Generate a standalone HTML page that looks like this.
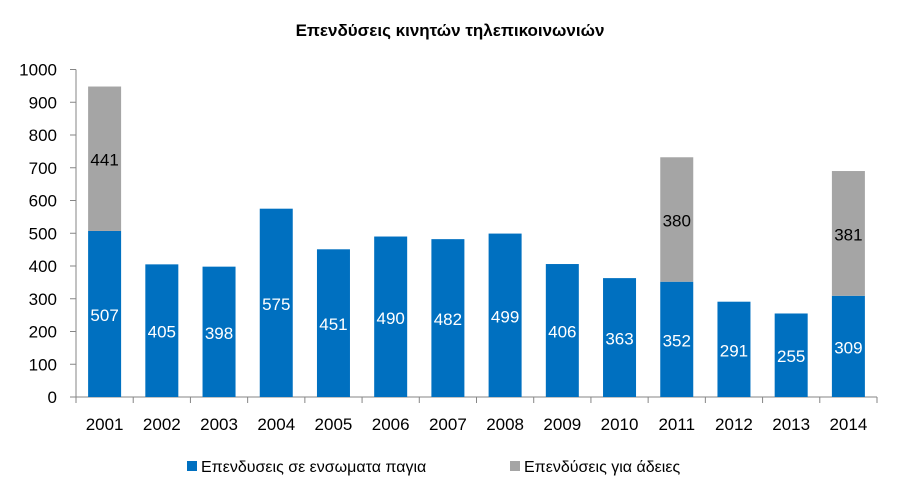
<!DOCTYPE html>
<html><head><meta charset="utf-8"><style>
html,body{margin:0;padding:0;background:#fff;}
svg{display:block;font-family:"Liberation Sans","DejaVu Sans",sans-serif;}
</style></head><body>
<svg id="chart" width="900" height="500" viewBox="0 0 900 500">
<text x="450" y="36" text-anchor="middle" font-size="17" font-weight="bold" fill="#000">Επενδύσεις κινητών τηλεπικοινωνιών</text>
<g id="axes"></g>
<g id="bars"></g>
<g>
<rect x="187" y="461" width="10" height="10" fill="#0070c0"/>
<text x="201" y="472" font-size="16" fill="#000">Επενδυσεις σε ενσωματα παγια</text>
<rect x="510" y="461" width="10" height="10" fill="#a5a5a5"/>
<text x="524" y="472" font-size="16" fill="#000">Επενδύσεις για άδειες</text>
</g>
</svg>
<script>
const categories = ["2001","2002","2003","2004","2005","2006","2007","2008","2009","2010","2011","2012","2013","2014"];
const fixedAssets = [507,405,398,575,451,490,482,499,406,363,352,291,255,309];
const licenses = [441,0,0,0,0,0,0,0,0,0,380,0,0,381];
const yTicks = [0,100,200,300,400,500,600,700,800,900,1000];

const NS = "http://www.w3.org/2000/svg";
const pL = 76, pR = 877, pT = 69.5, pB = 397;
const yMax = 1000;
const catW = (pR - pL) / categories.length;
const barW = 33;
function y(v){ return pB - v / yMax * (pB - pT); }
function xc(i){ return pL + catW * (i + 0.5); }
function mk(tag, attrs, parent){
  const e = document.createElementNS(NS, tag);
  for (const k in attrs) e.setAttribute(k, attrs[k]);
  parent.appendChild(e);
  return e;
}
const axesG = document.getElementById("axes");
const barsG = document.getElementById("bars");

const yAxis = mk("line", {x1:pL, y1:pT, x2:pL, y2:pB, stroke:"#868686", "stroke-width":1}, axesG);


const xAxis = mk("line", {x1:pL, y1:pB, x2:pR, y2:pB, stroke:"#868686", "stroke-width":1}, axesG);



yTicks.forEach(t => {
  const tk = mk("line", {x1:pL-6, y1:y(t), x2:pL, y2:y(t), stroke:"#868686"}, axesG);
  
  
  const lb = mk("text", {x:pL-19, y:y(t)+6, "text-anchor":"end", "font-size":"17", fill:"#000"}, axesG);
  lb.textContent = t;
  
  
});
for (let i = 0; i <= categories.length; i++) {
  const tk = mk("line", {x1:pL+catW*i, y1:pB, x2:pL+catW*i, y2:pB+6, stroke:"#868686"}, axesG);
  
  
}
categories.forEach((c, i) => {
  const lb = mk("text", {x:xc(i), y:430, "text-anchor":"middle", "font-size":"17", fill:"#000"}, axesG);
  lb.textContent = c;
  
  

  const v1 = fixedAssets[i];
  const r1 = mk("rect", {x:xc(i)-barW/2, y:y(v1), width:barW, height:pB-y(v1), fill:"#0070c0"}, barsG);
  
  
  const t1 = mk("text", {x:xc(i), y:(y(v1)+pB)/2+7, "text-anchor":"middle", "font-size":"17", fill:"#fff"}, barsG);
  t1.textContent = v1;
  
  

  const v2 = licenses[i];
  if (v2 > 0) {
    const r2 = mk("rect", {x:xc(i)-barW/2, y:y(v1+v2), width:barW, height:y(v1)-y(v1+v2), fill:"#a5a5a5"}, barsG);
    
    
    const t2 = mk("text", {x:xc(i), y:(y(v1+v2)+y(v1))/2+7, "text-anchor":"middle", "font-size":"17", fill:"#000"}, barsG);
    t2.textContent = v2;
    
    
  }
});
</script>
</body></html>
